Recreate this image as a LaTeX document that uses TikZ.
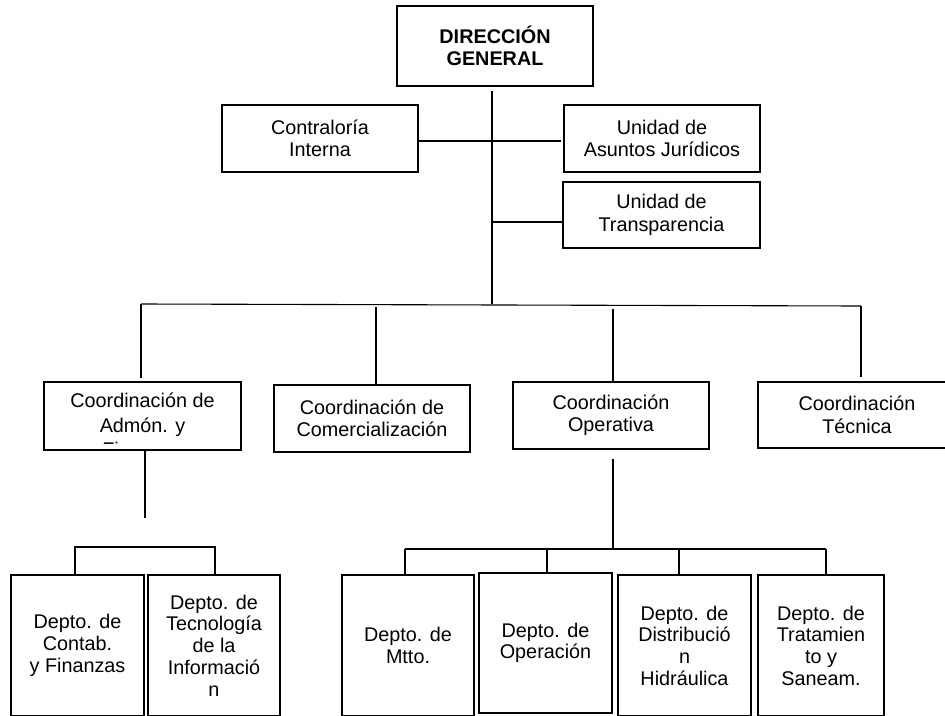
\documentclass[tikz,border=0pt]{standalone}
\usepackage{fontspec}
\setmainfont{Liberation Sans}
\usetikzlibrary{calc}
\begin{document}
\begin{tikzpicture}[x=1pt,y=-1pt,
  txt/.style={inner sep=0pt, align=center, font=\fontsize{19.8}{22.5}\selectfont},
  bx/.style 2 args={draw, line width=1.4pt, inner sep=0pt, align=center,
    minimum width=#1pt, minimum height=#2pt, font=\fontsize{19.8}{22.5}\selectfont},
  dbx/.style 2 args={bx={#1}{#2}, font=\fontsize{19.8}{21.7}\selectfont},
  link/.style={line width=1.1pt}]
\useasboundingbox (0,0) rectangle (945,715);

% top level
\node[bx={196}{80}] (dg) at (495,46) {\bfseries DIRECCIÓN\\\bfseries GENERAL};
\node[bx={196}{67}] (ci) at (320,138.5) {Contraloría\\Interna};
\node[bx={196}{67}] (uaj) at (662,138.5) {Unidad de\\Asuntos Jurídicos};
\node[bx={197}{66}] (ut) at (661.5,215) {Unidad de\\Transparencia};

% coordinations
\node[bx={197}{68}] (ca) at (142.5,416) {};
\begin{scope}
  \clip (44,382) rectangle (241,443);
  \node[txt, anchor=north, font=\fontsize{19.8}{24.5}\selectfont] (catext) at (142.5,393) {Coordinación de\\Admón. y\\Finanzas};
\end{scope}
\node[bx={196}{67}] (cc) at (372,418.5) {Coordinación de\\Comercialización};
\node[bx={196}{67}] (co) at (611,415.5) {Coordinación\\Operativa};
\node[bx={204}{66}] (ct) at (860,415) {\hspace*{-6pt}Coordinación\\\hspace*{-6pt}Técnica};

% departments
\node[dbx={133}{141}] (dc) at (77.5,645.5) {Depto. de\\Contab.\\y Finanzas};
\node[dbx={132}{141}] (dt) at (214,645.5) {Depto. de\\Tecnología\\de la\\Informació\\n};
\node[dbx={132}{141}] (dm) at (408,645.5) {Depto. de\\Mtto.};
\node[dbx={133}{140}, line width=2.2pt] (dop) at (545.5,643) {Depto. de\\Operación};
\node[dbx={133}{141}] (dd) at (684.5,645.5) {Depto. de\\Distribució\\n\\Hidráulica};
\node[dbx={126}{141}] (dtr) at (821,645.5) {Depto. de\\Tratamien\\to y\\Saneam.};

% trunk and staff units
\coordinate (t0) at (492,91);
\coordinate (t1) at (492,304);
\draw[link] (t0) -- (t1);
\coordinate (h1) at (492,141);
\draw[link] (ci.east |- h1) -- ($(uaj.west |- h1)+(-2,0)$);
\coordinate (h2) at (492,222);
\draw[link] (h2) -- (ut.west |- h2);

% main bus
\coordinate (bL) at (141,304);
\coordinate (bR) at (861,306);
\draw[link] (bL) -- (bR);
\draw[link] (bL) -- ($(bL |- ca.north)+(0,-3)$);
\coordinate (v2) at (376,307);
\draw[link] (v2) -- (v2 |- cc.north);
\coordinate (v3) at (613,309);
\draw[link] (v3) -- (v3 |- co.north);
\draw[link] (bR) -- ($(bR |- ct.north)+(0,-4)$);

% left branch
\coordinate (a2) at (145,518);
\draw[link] (ca.south -| a2) -- (a2);
\coordinate (lb1) at (75,547);
\coordinate (lb2) at (215,547);
\draw[link] (dc.north -| lb1) -- (lb1) -- (lb2) -- (dt.north -| lb2);

% right branch
\coordinate (o1) at (613,459);
\coordinate (o2) at (613,549);
\draw[link] (o1) -- (o2);
\coordinate (rb1) at (405,549);
\coordinate (rb2) at (547,549);
\coordinate (rb3) at (679,549);
\coordinate (rb4) at (826,549);
\draw[link] (rb1) -- (rb4);
\draw[link] (rb1) -- (rb1 |- dm.north);
\draw[link] (rb2) -- (rb2 |- dop.north);
\draw[link] (rb3) -- (rb3 |- dd.north);
\draw[link] (rb4) -- (rb4 |- dtr.north);
\end{tikzpicture}
\end{document}
